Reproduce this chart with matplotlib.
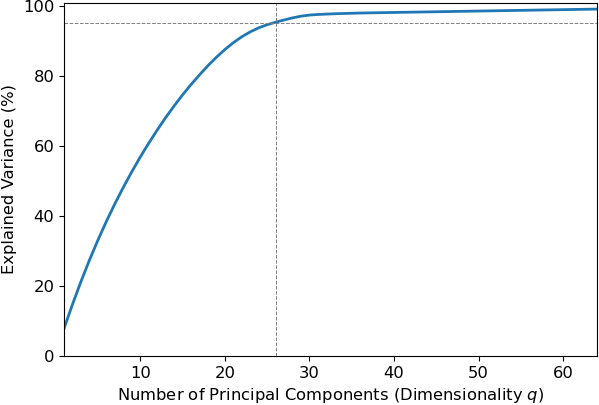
import matplotlib
matplotlib.use("Agg")
import matplotlib.pyplot as plt
import numpy as np

# cumulative explained variance (%) per number of components
components = np.arange(1, 65)
explained = [
    7.9, 14.8, 21.3, 27.4, 33.1, 38.45, 43.45, 48.15, 52.6, 56.8,
    60.75, 64.5, 68.05, 71.4, 74.55, 77.5, 80.25, 82.9, 85.3, 87.5,
    89.45, 91.15, 92.55, 93.7, 94.6, 95.3, 95.95, 96.55, 97.03, 97.35,
    97.52, 97.63, 97.73, 97.8, 97.87, 97.93, 97.98, 98.02, 98.06, 98.1,
    98.14, 98.18, 98.22, 98.26, 98.3, 98.34, 98.38, 98.42, 98.46, 98.5,
    98.54, 98.58, 98.62, 98.66, 98.7, 98.74, 98.78, 98.82, 98.86, 98.9,
    98.94, 98.98, 99.02, 99.06,
]
threshold = 95
n_keep = 26

plt.rcParams["font.size"] = 11.75

fig, ax = plt.subplots(figsize=(5.99, 4.05), dpi=100)
ax.plot(components, explained, color="#1f77b4", lw=2)
ax.axhline(threshold, color="gray", ls="--", lw=0.7)
ax.axvline(n_keep, color="gray", ls="--", lw=0.7)
ax.set_xlim(1, 64)
ax.set_ylim(0, 100.8)
ax.set_xlabel("Number of Principal Components (Dimensionality $q$)")
ax.set_ylabel("Explained Variance (%)")
fig.subplots_adjust(left=0.107, right=0.9967, top=0.9926, bottom=0.121)
fig.savefig("out.png", dpi=100)
